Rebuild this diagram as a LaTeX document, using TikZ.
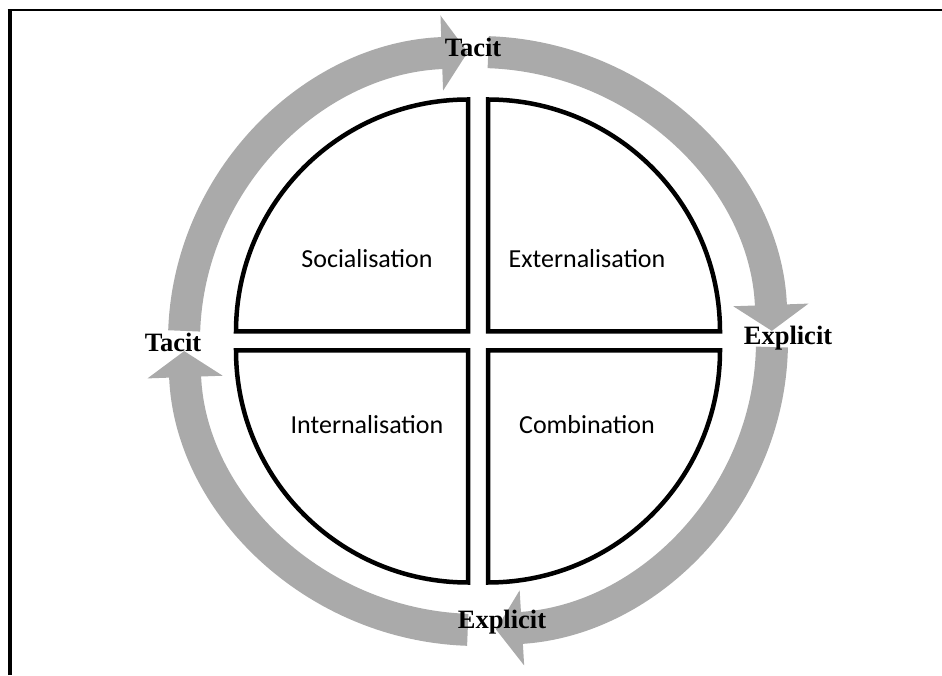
\documentclass[tikz,border=0pt]{standalone}
\usepackage{fontspec}
\setmainfont{Liberation Serif}
\newfontfamily\quadfont{Carlito}
\usetikzlibrary{arrows.meta}
\definecolor{ringgray}{RGB}{170,170,170}

\begin{document}
\begin{tikzpicture}[x=1pt, y=1pt,
  quad/.style = {draw, line width=4.5pt, fill=white},
  flow/.style = {ringgray, line width=32pt, -{Triangle[width=74pt, length=26pt]}},
  mode/.style = {font=\quadfont\fontsize{26}{30}\selectfont},
  side/.style = {font=\bfseries\fontsize{26.5}{30}\selectfont}]
\useasboundingbox (0,0) rectangle (942,675);
\draw[line width=4pt] (9.5,0) -- (9.5,666);
\draw[line width=2.5pt] (7.5,665) -- (942,665);

\coordinate (c) at (478,334);

\draw[flow] ([shift={(178:294pt and 289pt)}]c) arc[start angle=178, end angle=92, x radius=294pt, y radius=289pt];
\draw[flow] ([shift={(88:294pt and 289pt)}]c) arc[start angle=88, end angle=2, x radius=294pt, y radius=289pt];
\draw[flow] ([shift={(-1.2:294pt and 289pt)}]c) arc[start angle=-1.2, end angle=-86.5, x radius=294pt, y radius=289pt];
\draw[flow] ([shift={(-92:294pt and 289pt)}]c) arc[start angle=-92, end angle=-178, x radius=294pt, y radius=289pt];

\draw[quad] ([shift={(-10,9.5)}]c) -- ++(-232,0) arc[start angle=180, end angle=90, radius=232pt] -- cycle;
\draw[quad] ([shift={(10,9.5)}]c) -- ++(0,232) arc[start angle=90, end angle=0, radius=232pt] -- cycle;
\draw[quad] ([shift={(10,-9.5)}]c) -- ++(232,0) arc[start angle=0, end angle=-90, radius=232pt] -- cycle;
\draw[quad] ([shift={(-10,-9.5)}]c) -- ++(0,-232) arc[start angle=-90, end angle=-180, radius=232pt] -- cycle;

\node[mode] (soc) at (367,416) {Socialisation};
\node[mode] (ext) at (587,416) {Externalisation};
\node[mode] (int) at (367,250) {Internalisation};
\node[mode] (comb) at (587,250) {Combination};

\node[side] (tacittop) at (473,628) {Tacit};
\node[side] (explright) at (788,337) {Explicit};
\node[side] (explbottom) at (502,53) {Explicit};
\node[side] (tacitleft) at (173,333) {Tacit};
\end{tikzpicture}
\end{document}
